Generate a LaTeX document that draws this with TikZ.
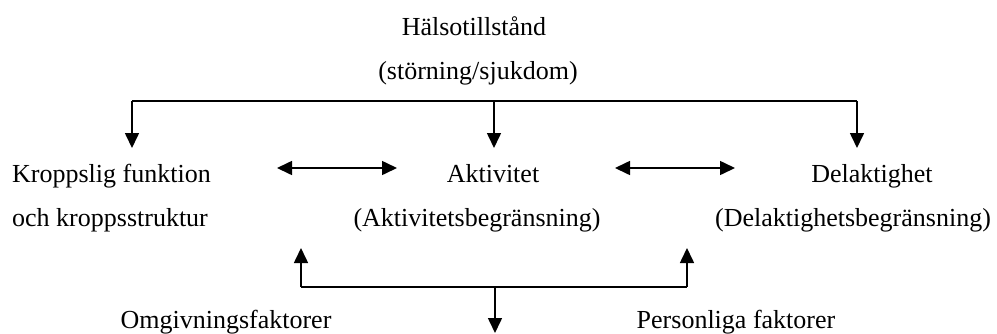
\documentclass[tikz,border=0pt]{standalone}
\usepackage{fontspec}
\setmainfont{Liberation Serif}
\usetikzlibrary{arrows.meta}

\begin{document}
\begin{tikzpicture}[
  x=1pt, y=-1pt,
  lbl/.style={inner sep=0pt, anchor=base, font=\fontsize{26}{30}\selectfont},
  lbll/.style={lbl, anchor=base west},
  line/.style={line width=1.6pt},
  arr/.style={line, -{Triangle[length=15pt, width=14pt]}},
  darr/.style={line, {Triangle[length=15pt, width=14pt]}-{Triangle[length=15pt, width=14pt]}},
]
  \useasboundingbox (0,0) rectangle (997,333);

  % Nodes
  \node[lbl] (halsa) at (474,35) {Hälsotillstånd};
  \node[lbl] (storning) at (478,79) {(störning/sjukdom)};
  \node[lbll] (kropp) at (12,182) {Kroppslig funktion};
  \node[lbll] (kropp2) at (12,226) {och kroppsstruktur};
  \node[lbl] (aktiv) at (493,182) {Aktivitet};
  \node[lbl] (aktiv2) at (477,226) {(Aktivitetsbegränsning)};
  \node[lbl] (delak) at (872,182) {Delaktighet};
  \node[lbl] (delak2) at (853,226) {(Delaktighetsbegränsning)};
  \node[lbl] (omgiv) at (226,328) {Omgivningsfaktorer};
  \node[lbl] (person) at (736,328) {Personliga faktorer};

  % Junctions
  \coordinate (topL) at (132,101);
  \coordinate (topM) at (494,101);
  \coordinate (topR) at (857,101);
  \coordinate (inKropp) at (132,148);
  \coordinate (inAktiv) at (494,148);
  \coordinate (inDelak) at (857,148);
  \coordinate (botL) at (301,287);
  \coordinate (botM) at (495,287);
  \coordinate (botR) at (687,287);
  \coordinate (upL) at (301,248);
  \coordinate (upR) at (687,248);
  \coordinate (down) at (495,333);
  \coordinate (dl1) at (277,168);
  \coordinate (dl2) at (397,168);
  \coordinate (dr1) at (615,168);
  \coordinate (dr2) at (735,168);

  % Arrows
  \draw[line] (topL) -- (topR);
  \draw[arr] (topL) -- (inKropp);
  \draw[arr] (topM) -- (inAktiv);
  \draw[arr] (topR) -- (inDelak);
  \draw[darr] (dl1) -- (dl2);
  \draw[darr] (dr1) -- (dr2);
  \draw[arr] (botL) -- (upL);
  \draw[arr] (botR) -- (upR);
  \draw[line] (botL) -- (botR);
  \draw[arr] (botM) -- (down);
\end{tikzpicture}
\end{document}
